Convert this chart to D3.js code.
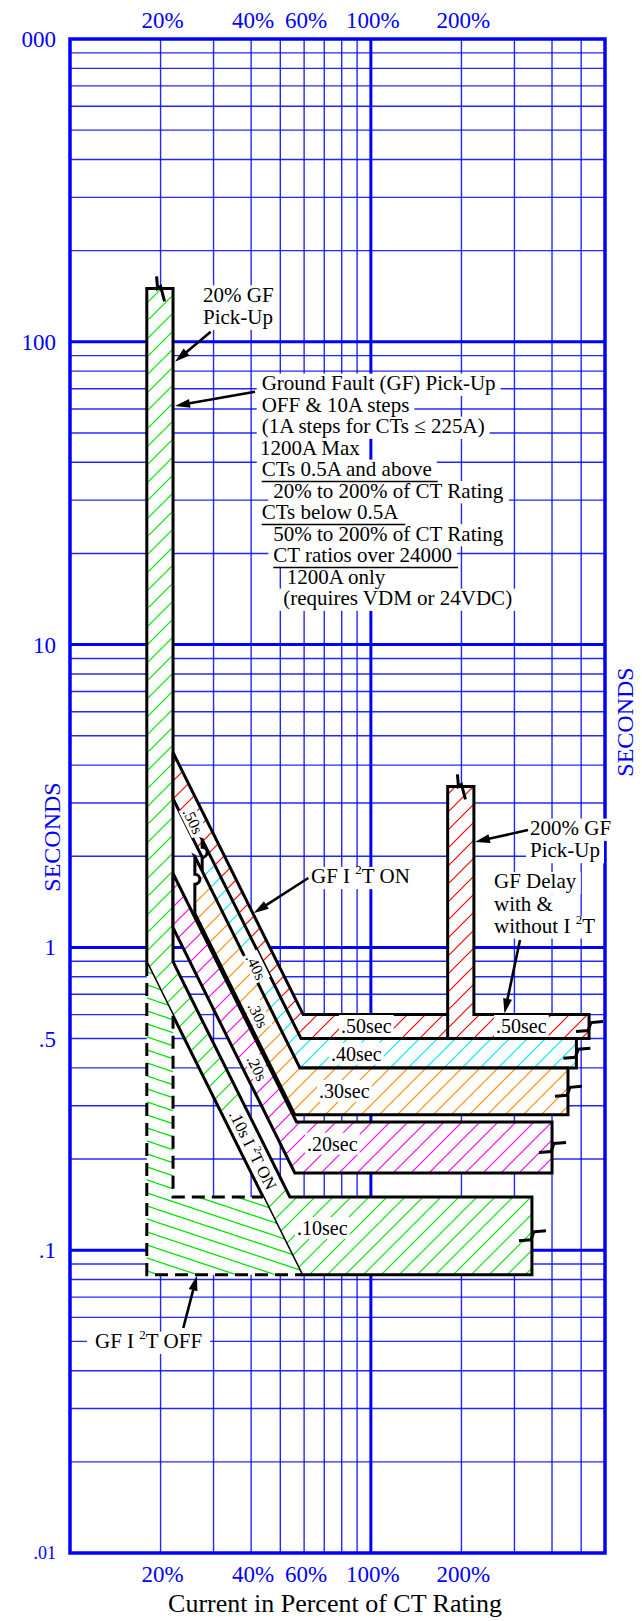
<!DOCTYPE html>
<html><head><meta charset="utf-8">
<script src="https://cdn.jsdelivr.net/npm/d3@7"></script>
<style>body{margin:0;background:#fff}svg{display:block}</style>
</head><body>
<svg id="c" width="642" height="1621"></svg>
<script>
// ---------------- DATA ----------------
const xTickValues = [20, 40, 60, 100, 200];
const xTickLabels = ["20%", "40%", "60%", "100%", "200%"];
const yTickValues = [1000, 100, 10, 1, 0.5, 0.1, 0.01];
const yTickLabels = ["000", "100", "10", "1", ".5", ".1", ".01"];

const pickup20 = [18, 22];        // % of CT rating
const pickup20Top = 150;          // seconds
const pickup200 = [180, 220];
const pickup200Top = 3.4;

const delayLabels = [".50sec", ".40sec", ".30sec", ".20sec", ".10sec"];
const slopeLabels = [".50s", ".40s", ".30s", ".20s", ".10s I ²T ON"];
const delayMin = [0.50, 0.40, 0.28, 0.18, 0.083];
const delayMax = [0.60, 0.50, 0.40, 0.265, 0.15];
const delayEnd = [531, 482, 452, 400, 343];
const i2tMaxK = [2130, 1717, 1350, 849, 434];   // t * I^2  (s·%²)
const i2tMinK = [1500, 1145, 875, 562, 288];
const i2tStart = [22, 27.5, 26, 22, 22];
const bandColors = ["#ff0000", "#00e8ff", "#ff8c00", "#ff00ff", "#00e600"];

const noteBlock = ["Ground Fault (GF) Pick-Up", "OFF & 10A steps", "(1A steps for CTs ≤ 225A)",
  "1200A Max", "CTs 0.5A and above", "20% to 200% of CT Rating", "CTs below 0.5A",
  "50% to 200% of CT Rating", "CT ratios over 24000", "1200A only", "(requires VDM or 24VDC)"];
const noteUnderline = [false, false, false, false, true, false, true, false, true, false, false];

// ---------------- SETUP ----------------
const W = 642, H = 1621;
const FONT = "'Liberation Serif','Times New Roman',serif";
const BLUE = "#0000ff";
const svg = d3.select("#c");
const x = d3.scaleLog().domain([10, 600]).range([70, 605]);
const y = d3.scaleLog().domain([1000, 0.01]).range([39, 1553]);
const P = (I, t) => [x(I), y(t)];

svg.append("rect").attr("width", W).attr("height", H).attr("fill", "#fff");
const defs = svg.append("defs");
function hatch(id, color) {
  const p = defs.append("pattern").attr("id", id).attr("patternUnits", "userSpaceOnUse")
    .attr("width", 18).attr("height", 18);
  p.append("rect").attr("width", 18).attr("height", 18).attr("fill", "#fff");
  p.append("path").attr("d", "M-2,2L2,-2M0,18L18,0M16,20L20,16")
    .attr("stroke", color).attr("stroke-width", 1.2);
}
bandColors.forEach((c, i) => hatch("h" + i, c));
{
  const p = defs.append("pattern").attr("id", "hoff").attr("patternUnits", "userSpaceOnUse")
    .attr("width", 39).attr("height", 13);
  p.append("rect").attr("width", 39).attr("height", 13).attr("fill", "#fff");
  p.append("path").attr("d", "M0,0L39,13M0,-13L39,0M0,13L39,26")
    .attr("stroke", bandColors[4]).attr("stroke-width", 1.2);
}

// ---------------- GRID ----------------
const grid = svg.append("g");
const isMajor = v => Math.abs(Math.log10(v) - Math.round(Math.log10(v))) < 1e-9;
x.ticks().forEach(v => {
  if (v <= 10 || v >= 600) return;
  grid.append("line").attr("x1", x(v)).attr("x2", x(v)).attr("y1", 39).attr("y2", 1553)
    .attr("stroke", BLUE).attr("stroke-width", isMajor(v) ? 3 : 1.4).attr("opacity", isMajor(v) ? 1 : 0.85);
});
y.ticks().forEach(v => {
  if (v <= 0.01 || v >= 1000) return;
  grid.append("line").attr("y1", y(v)).attr("y2", y(v)).attr("x1", 70).attr("x2", 605)
    .attr("stroke", BLUE).attr("stroke-width", isMajor(v) ? 3 : 1.4).attr("opacity", isMajor(v) ? 1 : 0.85);
});
grid.append("rect").attr("x", 70).attr("y", 39).attr("width", 535).attr("height", 1514)
  .attr("fill", "none").attr("stroke", BLUE).attr("stroke-width", 3.5);

// axis labels
const axisG = svg.append("g").attr("font-family", FONT).attr("fill", BLUE);
xTickValues.forEach((v, i) => {
  axisG.append("text").attr("x", x(v) + 2).attr("y", 28).attr("text-anchor", "middle")
    .attr("font-size", 23).text(xTickLabels[i]);
  axisG.append("text").attr("x", x(v) + 2).attr("y", 1582).attr("text-anchor", "middle")
    .attr("font-size", 23).text(xTickLabels[i]);
});
yTickValues.forEach((v, i) => {
  axisG.append("text").attr("x", 56).attr("y", y(v)).attr("dy", "0.35em").attr("text-anchor", "end")
    .attr("font-size", v === 0.01 ? 18 : 23).text(yTickLabels[i]);
});
axisG.append("text").attr("transform", "translate(60,837) rotate(-90)").attr("text-anchor", "middle")
  .attr("font-size", 24).text("SECONDS");
axisG.append("text").attr("transform", "translate(633,722) rotate(-90)").attr("text-anchor", "middle")
  .attr("font-size", 24).text("SECONDS");
svg.append("text").attr("x", 335).attr("y", 1612).attr("text-anchor", "middle")
  .attr("font-family", FONT).attr("font-size", 26).attr("fill", "#000")
  .text("Current in Percent of CT Rating");

// ---------------- BANDS ----------------
const bands = svg.append("g");
const pstr = pts => pts.map((p, i) => (i ? "L" : "M") + p[0].toFixed(2) + "," + p[1].toFixed(2)).join("");
const knee = (K, t) => Math.sqrt(K / t);

// green: 20% pickup + .10 I2T ON band
{
  const K1 = i2tMaxK[4], K2 = i2tMinK[4];
  const pts = [P(pickup20[0], pickup20Top), P(pickup20[1], pickup20Top), P(pickup20[1], K1 / pickup20[1] ** 2),
    P(knee(K1, delayMax[4]), delayMax[4]), P(delayEnd[4], delayMax[4]), P(delayEnd[4], delayMin[4]),
    P(knee(K2, delayMin[4]), delayMin[4]), P(pickup20[0], K2 / pickup20[0] ** 2)];
  bands.append("path").attr("d", pstr(pts) + "Z").attr("fill", "url(#h4)")
    .attr("stroke", "#000").attr("stroke-width", 3).attr("stroke-linejoin", "miter");
  // I2T OFF region
  const off = [P(pickup20[0], K2 / pickup20[0] ** 2), P(pickup20[0], delayMin[4]), P(knee(K2, delayMin[4]), delayMin[4]),
    P(knee(K2, delayMax[4]), delayMax[4]), P(pickup20[1], delayMax[4]), P(pickup20[1], K2 / pickup20[1] ** 2)];
  bands.append("path").attr("d", pstr(off) + "Z").attr("fill", "url(#hoff)").attr("stroke", "none");
  bands.append("path").attr("d", pstr(off.slice(0, 3)) + pstr([off[5], off[4], off[3]]))
    .attr("fill", "none").attr("stroke", "#000").attr("stroke-width", 3).attr("stroke-dasharray", "13,7");
}
// red .50 band with 200% pickup
{
  const K1 = i2tMaxK[0], K2 = i2tMinK[0], tx = delayMax[0], tn = delayMin[0];
  const pts = [P(22, K1 / 484), P(knee(K1, tx), tx), P(pickup200[0], tx), P(pickup200[0], pickup200Top),
    P(pickup200[1], pickup200Top), P(pickup200[1], tx), P(delayEnd[0], tx), P(delayEnd[0], tn),
    P(knee(K2, tn), tn), P(22, K2 / 484)];
  bands.append("path").attr("d", pstr(pts) + "Z").attr("fill", "url(#h0)")
    .attr("stroke", "#000").attr("stroke-width", 3);
  bands.append("path").attr("d", pstr([P(pickup200[0], tx), P(pickup200[0], tn)]))
    .attr("stroke", "#000").attr("stroke-width", 3);
}
// cyan, orange, magenta
[1, 2, 3].forEach(i => {
  const K1 = i2tMaxK[i], K2 = i2tMinK[i], tx = delayMax[i], tn = delayMin[i], s = i2tStart[i];
  const A = P(s, K1 / s ** 2), B = P(s, K2 / s ** 2);
  const pts = [A, P(knee(K1, tx), tx), P(delayEnd[i], tx), P(delayEnd[i], tn), P(knee(K2, tn), tn), B];
  let d = pstr(pts);
  if (i === 3) d += "Z";
  else {
    let C = B;
    if (i === 1) { C = P(s, i2tMaxK[2] / s ** 2); d += "L" + C[0].toFixed(2) + "," + C[1].toFixed(2); }
    // notched left end: straight edge with a small round bump (break mark)
    const my = A[1] + (C[1] - A[1]) * 0.4, r = 5;
    d += `L${C[0]},${my + r}A${r},${r} 0 0 0 ${C[0]},${my - r}L${A[0]},${A[1]}Z`;
  }
  bands.append("path").attr("d", d).attr("fill", "url(#h" + i + ")")
    .attr("stroke", "#000").attr("stroke-width", 3);
});

// break symbols
const brk = svg.append("g").attr("fill", "none").attr("stroke", "#000").attr("stroke-width", 3);
delayEnd.forEach((e, i) => {
  const bx = x(e), by = y(Math.sqrt(delayMin[i] * delayMax[i]));
  brk.append("path").attr("d", `M${bx - 13},${by + 5}L${bx - 1},${by + 4}L${bx + 2},${by - 4}L${bx + 14},${by - 5}`);
});
[[20, pickup20Top], [200, pickup200Top]].forEach(([I, t]) => {
  const bx = x(I), by = y(t);
  brk.append("path").attr("d", `M${bx - 4},${by - 12}L${bx - 3},${by}L${bx},${by - 2}L${bx + 4},${by + 13}`);
});

// ---------------- LABELS ----------------
const boxL = svg.append("g"), textL = svg.append("g"), arrL = svg.append("g");
function label(s, xx, yy, size, opts = {}) {
  const gT = textL.append("g"), gB = boxL.append("g");
  if (opts.tf) { gT.attr("transform", opts.tf); gB.attr("transform", opts.tf); }
  const t = gT.append("text").attr("x", xx).attr("y", yy).attr("font-family", FONT)
    .attr("font-size", size).attr("fill", "#000").attr("text-anchor", opts.anchor || "start");
  if (opts.dy) t.attr("dy", opts.dy);
  const parts = s.split("²");
  t.append("tspan").text(parts[0]);
  if (parts.length > 1) {
    t.append("tspan").attr("font-size", size * 0.62).attr("dy", -size * 0.42).text("2");
    t.append("tspan").attr("dy", size * 0.42).text(parts[1]);
  }
  const b = t.node().getBBox();
  const px = opts.px ?? 4;
  if (opts.line) {
    gB.append("rect").attr("x", b.x - px).attr("y", yy - size * 0.78).attr("width", b.width + 2 * px)
      .attr("height", size * 1.06).attr("fill", "#fff");
  } else {
    const py = opts.py ?? 2;
    gB.append("rect").attr("x", b.x - px).attr("y", b.y - py).attr("width", b.width + 2 * px)
      .attr("height", b.height + 2 * py).attr("fill", "#fff");
  }
  if (opts.underline) {
    gT.append("line").attr("x1", b.x).attr("x2", b.x + b.width + 6).attr("y1", yy + 5.5).attr("y2", yy + 5.5)
      .attr("stroke", "#000").attr("stroke-width", 1.4);
  }
  return t;
}
function arrow(x1, y1, x2, y2) {
  const dx = x2 - x1, dy = y2 - y1, L = Math.hypot(dx, dy), ux = dx / L, uy = dy / L;
  const hl = 15, hw = 4.5, bx = x2 - ux * hl, by = y2 - uy * hl;
  arrL.append("line").attr("x1", x1).attr("y1", y1).attr("x2", bx + ux * 3).attr("y2", by + uy * 3)
    .attr("stroke", "#000").attr("stroke-width", 2.6);
  arrL.append("path").attr("d", `M${x2},${y2}L${bx - uy * hw},${by + ux * hw}L${bx + uy * hw},${by - ux * hw}Z`)
    .attr("fill", "#000");
}

// note block
const noteX = [261.7, 261.7, 261.7, 260, 261.7, 273.3, 261.7, 273.3, 273.3, 286.7, 283.3];
noteBlock.forEach((s, i) => label(s, noteX[i], 390 + i * 21.5, 21, { line: true, underline: noteUnderline[i], px: 5 }));
label("20% GF", 203, 301.7, 21, { line: true });
label("Pick-Up", 203, 324, 21, { line: true });
label("GF I ²T ON", 311, 883.3, 21, { line: true });
label("200% GF", 530, 835, 21, { line: true });
label("Pick-Up", 530, 857.3, 21, { line: true });
label("GF Delay", 494, 888.3, 21, { line: true });
label("with &", 494, 910.7, 21, { line: true });
label("without I ²T", 494, 932.7, 21, { line: true });
label("GF I ²T OFF", 95, 1348, 21, { line: true, px: 8 });

// flat band labels
const flatPos = [[341, 1033], [331, 1060.7], [319, 1098], [307, 1150.7], [297, 1235]];
delayLabels.forEach((s, i) => label(s, flatPos[i][0], flatPos[i][1], 20, { px: 2, py: 0 }));
label(delayLabels[0], 496, 1033, 20, { px: 2, py: 0 });

// slope labels, rotated along the I²t slope
const ang = Math.atan2(y(1) - y(4), x(50) - x(25)) * 180 / Math.PI;
const slopePos = [[193, 821], [256, 967], [258, 1015], [257, 1068], [253, 1150]];
slopeLabels.forEach((s, i) => label(s, 0, 0, i === 4 ? 17 : 16,
  { tf: `translate(${slopePos[i][0]},${slopePos[i][1]}) rotate(${ang})`, anchor: "middle", dy: "0.35em", px: 2, py: 0 }));

// arrows (tips anchored to data)
arrow(210.7, 331.7, x(22) + 2, y(86));
arrow(255, 391.7, x(22) + 2, y(61.4));
arrow(308.3, 878, x(40.5) + 1, y(i2tMaxK[0] / 40.5 ** 2));
arrow(528, 830, x(220) + 1, y(2.23));
arrow(520, 940, x(278), y(0.6) - 1);
arrow(183.3, 1328, x(26.4), y(0.083) + 1);
</script>
</body></html>
